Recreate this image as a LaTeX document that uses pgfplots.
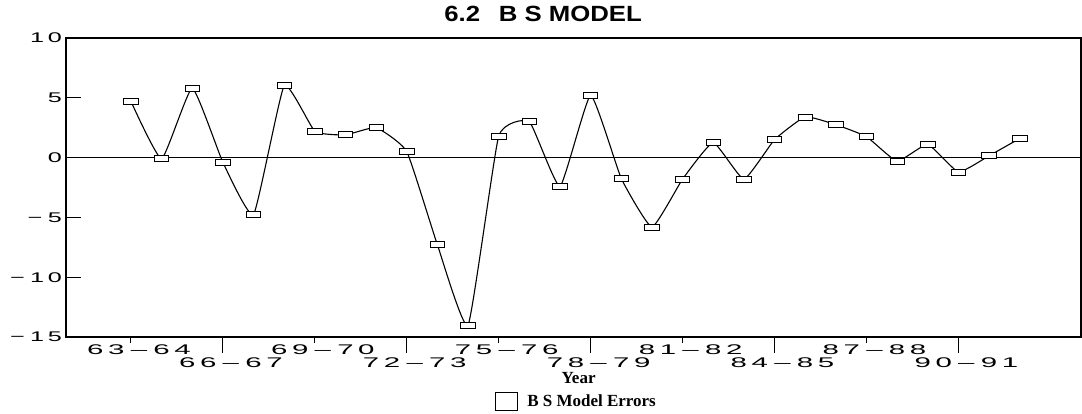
\documentclass[border=0pt]{standalone}
\usepackage{fontspec}
\setmainfont{Liberation Serif}
\newfontfamily\arial{Liberation Sans}
\usepackage{graphicx}
\usepackage{pgfplots}
\pgfplotsset{compat=1.18}
\newcommand{\yr}[4]{\scalebox{2.1}[1]{#1\hspace{2.2pt}#2\hspace{3pt}–\hspace{3pt}#3\hspace{2.2pt}#4}}
\newcommand{\yl}[1]{\scalebox{1.8}[1]{#1}}
\pgfplotstableread{
x y
0 4.7
1 -0.1
2 5.8
3 -0.4
4 -4.75
5 6.0
6 2.2
7 1.9
8 2.5
9 0.5
10 -7.3
11 -14.0
12 1.8
13 3.0
14 -2.4
15 5.2
16 -1.75
17 -5.8
18 -1.8
19 1.25
20 -1.8
21 1.5
22 3.4
23 2.75
24 1.75
25 -0.3
26 1.1
27 -1.2
28 0.15
29 1.6
}\errs
\pgfplotsset{common/.style={
  scale only axis,
  width=1015pt, height=299pt,
  xmin=-2.12, xmax=31,
  ymin=-15, ymax=10,
}}
\begin{document}
\begin{tikzpicture}
\begin{axis}[
  common,
  axis line style={line width=1.1pt},
  tick align=inside,
  xtick=\empty,
  ytick pos=left,
  major tick length=15pt,
  tick style={line width=1.3pt, black},
  ytick={-15,-10,-5,0,5,10},
  yticklabels={\yl{−\hspace{3pt}1\hspace{2pt}5},\yl{−\hspace{3pt}1\hspace{2pt}0},\yl{−\hspace{3pt}5},\yl{0}\hspace{9pt},\yl{5}\hspace{8pt},\yl{1\hspace{2pt}0}\hspace{10pt}},
  y tick label style={font=\arial\fontsize{14}{14}\selectfont, anchor=east, inner sep=0pt, xshift=-4pt},
  title={\arial\bfseries\fontsize{22}{22}\selectfont\scalebox{1.17}[1]{6.2\hspace{16pt}B S MODEL}},
  title style={at={(axis description cs:0.47,1)}, anchor=base, yshift=10pt, inner sep=0pt},
  xlabel={\bfseries\fontsize{17}{17}\selectfont Year},
  xlabel style={at={(axis description cs:0.505,0)}, anchor=north, yshift=-35pt, inner sep=0pt},
  legend style={at={(axis description cs:0.503,0)}, anchor=north, yshift=-55pt, draw=none, fill=none, inner sep=0pt,
     font=\bfseries\fontsize{17}{17}\selectfont},
  legend image code/.code={\draw[black, line width=1pt, fill=white] (0pt,-9pt) rectangle (22pt,9pt);},
]
\addplot[black, line width=0.9pt, forget plot] coordinates {(-2.12,0) (31,0)};
\addplot[black, line width=1.1pt, smooth, tension=0.25, mark=square*, mark size=3pt,
  mark options={fill=white, line width=0.8pt, xscale=2.4}] table {\errs};
\addlegendentry{\hspace{7pt}B S Model Errors}
\end{axis}
\begin{axis}[
  common,
  axis y line=none,
  axis x line*=bottom,
  x axis line style={draw=none},
  tick align=outside,
  major tick length=6pt,
  tick style={line width=1pt, black},
  xtick={0,6,12,18,24},
  xticklabels={\yr6364,\yr6970,\yr7576,\yr8182,\yr8788},
  extra x ticks={3,9,15,21,27},
  extra x tick labels={\yr6667,\yr7273,\yr7879,\yr8485,\yr9091},
  extra x tick style={major tick length=16pt, x tick label style={yshift=-3pt}},
  x tick label style={font=\arial\fontsize{14}{14}\selectfont, anchor=north, inner sep=0pt, yshift=-2pt, xshift=8pt},
]
\end{axis}
\pgfresetboundingbox
\path ([xshift=-66pt,yshift=-77pt]current axis.south west) rectangle ([xshift=1pt,yshift=38pt]current axis.north east);
\end{tikzpicture}
\end{document}
